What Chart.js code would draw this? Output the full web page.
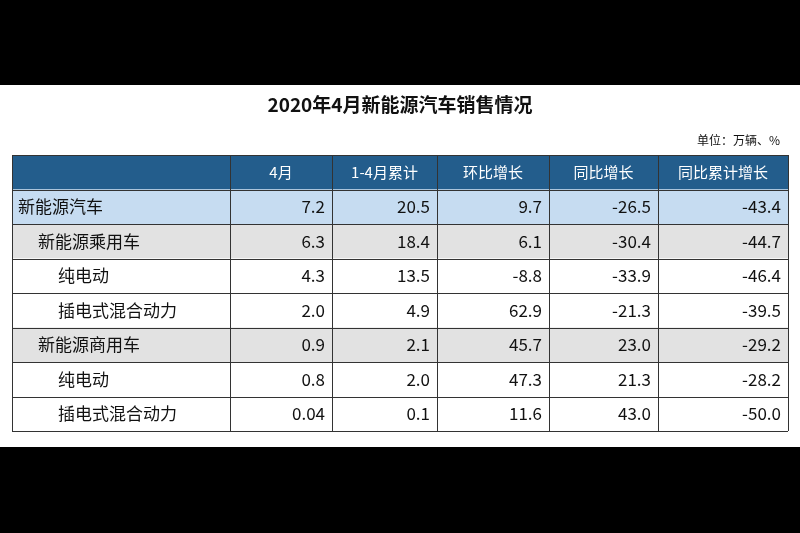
<!DOCTYPE html>
<html>
<head>
<meta charset="utf-8">
<script src="https://cdn.jsdelivr.net/npm/chart.js@4/dist/chart.umd.min.js"></script>
<style>
  html, body { margin: 0; padding: 0; background: #000; width: 800px; height: 533px; overflow: hidden; }
  #wrap { position: absolute; left: 0; top: 85px; width: 800px; height: 362px; background: #fff; }
</style>
</head>
<body>
<div id="wrap"><canvas id="tableChart" width="800" height="362"></canvas></div>
<script>
// Table data
const title = '2020年4月新能源汽车销售情况';
const unitLabel = '单位：万辆、%';
const headers = ['', '4月', '1-4月累计', '环比增长', '同比增长', '同比累计增长'];
const rowLabels = ['新能源汽车', '新能源乘用车', '纯电动', '插电式混合动力', '新能源商用车', '纯电动', '插电式混合动力'];
const rowLevels = [0, 1, 2, 2, 1, 2, 2];
const april = ['7.2', '6.3', '4.3', '2.0', '0.9', '0.8', '0.04'];
const ytd = ['20.5', '18.4', '13.5', '4.9', '2.1', '2.0', '0.1'];
const mom = ['9.7', '6.1', '-8.8', '62.9', '45.7', '47.3', '11.6'];
const yoy = ['-26.5', '-30.4', '-33.9', '-21.3', '23.0', '21.3', '43.0'];
const yoyCum = ['-43.4', '-44.7', '-46.4', '-39.5', '-29.2', '-28.2', '-50.0'];

// column edges in table units
const colEdges = [0, 218, 320, 425, 537, 646, 776];
const FONT = '"Noto Sans CJK SC", "Noto Sans", sans-serif';

const tablePlugin = {
    id: 'tablePlugin',
    afterDraw(chart) {
        const ctx = chart.ctx;
        const x = chart.scales.x;
        const y = chart.scales.y;
        const cols = [april, ytd, mom, yoy, yoyCum];
        const nRows = rowLabels.length + 1;

        ctx.save();
        // title + unit
        ctx.fillStyle = '#111';
        ctx.font = 'bold 19px ' + FONT;
        ctx.textAlign = 'center';
        ctx.textBaseline = 'middle';
        ctx.fillText(title, 400, 20);
        ctx.font = '12px ' + FONT;
        ctx.textAlign = 'right';
        ctx.fillText(unitLabel, 780, 55);

        // row backgrounds
        for (let r = 0; r < nRows; r++) {
            let bg = '#ffffff';
            if (r === 0) bg = '#235d8c';
            else if (r === 1) bg = '#c6dcf1';
            else if (rowLevels[r - 1] === 1) bg = '#e2e2e2';
            const top = y.getPixelForValue(r);
            const bottom = y.getPixelForValue(r + 1);
            ctx.fillStyle = bg;
            ctx.fillRect(x.getPixelForValue(0), top, x.getPixelForValue(776) - x.getPixelForValue(0), bottom - top);
        }

        // grid lines
        ctx.strokeStyle = '#333';
        ctx.lineWidth = 1;
        for (let r = 0; r <= nRows; r++) {
            const py = Math.round(y.getPixelForValue(r)) + 0.5;
            ctx.beginPath();
            ctx.moveTo(x.getPixelForValue(0), py);
            ctx.lineTo(x.getPixelForValue(776), py);
            ctx.stroke();
        }
        colEdges.forEach((e, i) => {
            const px = Math.round(x.getPixelForValue(e)) + 0.5;
            ctx.beginPath();
            ctx.strokeStyle = '#333';
            ctx.moveTo(px, y.getPixelForValue(0));
            ctx.lineTo(px, y.getPixelForValue(nRows));
            ctx.stroke();
        });

        // header text
        ctx.fillStyle = '#ffffff';
        ctx.font = '15px ' + FONT;
        ctx.textAlign = 'center';
        const hy = (y.getPixelForValue(0) + y.getPixelForValue(1)) / 2;
        headers.forEach((h, c) => {
            if (!h) return;
            ctx.fillText(h, (x.getPixelForValue(colEdges[c]) + x.getPixelForValue(colEdges[c + 1])) / 2, hy);
        });

        // body
        ctx.fillStyle = '#111';
        ctx.font = '17px ' + FONT;
        rowLabels.forEach((label, i) => {
            const cy = (y.getPixelForValue(i + 1) + y.getPixelForValue(i + 2)) / 2;
            ctx.textAlign = 'left';
            ctx.fillText(label, x.getPixelForValue(6 + rowLevels[i] * 20), cy);
            ctx.textAlign = 'right';
            cols.forEach((col, c) => {
                ctx.fillText(col[i], x.getPixelForValue(colEdges[c + 2]) - 7, cy);
            });
        });
        ctx.restore();
    },
};

new Chart(document.getElementById('tableChart'), {
    type: 'scatter',
    data: { datasets: [{ data: [] }] },
    options: {
        responsive: false,
        animation: false,
        layout: { padding: { left: 12, right: 12, top: 70, bottom: 16 } },
        scales: {
            x: { display: false, min: 0, max: 776 },
            y: { display: false, min: 0, max: 8, reverse: true },
        },
        plugins: { legend: { display: false }, tooltip: { enabled: false } },
    },
    plugins: [tablePlugin],
});
</script>
</body>
</html>
